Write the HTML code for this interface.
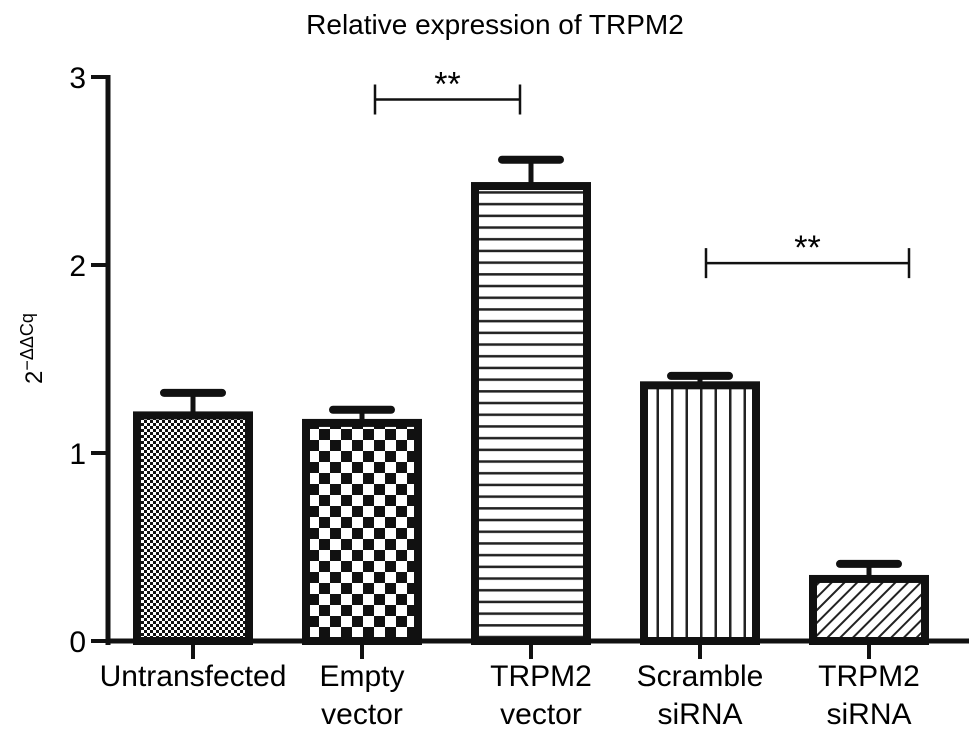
<!DOCTYPE html>
<html><head><meta charset="utf-8"><style>
body{margin:0;background:#fff}
svg{display:block;font-family:"Liberation Sans",sans-serif}
</style></head><body>
<svg id="c" width="969" height="748">
<defs>
<pattern id="p0" width="6" height="6" patternUnits="userSpaceOnUse"><rect width="6" height="6" fill="#fff"/><rect width="3" height="3" fill="#111"/><rect x="3" y="3" width="3" height="3" fill="#111"/></pattern>
<pattern id="p1" width="22" height="22" patternUnits="userSpaceOnUse"><rect width="22" height="22" fill="#fff"/><rect width="11" height="11" fill="#111"/><rect x="11" y="11" width="11" height="11" fill="#111"/></pattern>
<pattern id="p2" width="10" height="11.7" patternUnits="userSpaceOnUse"><rect width="10" height="11.7" fill="#fff"/><rect y="4" width="10" height="2.5" fill="#222"/></pattern>
<pattern id="p3" width="14.5" height="10" patternUnits="userSpaceOnUse"><rect width="14.5" height="10" fill="#fff"/><rect x="4" width="2.5" height="10" fill="#222"/></pattern>
<pattern id="p4" width="9" height="9" patternUnits="userSpaceOnUse" patternTransform="rotate(45)"><rect width="9" height="9" fill="#fff"/><rect width="2" height="9" fill="#222"/></pattern>
</defs>
<text x="495" y="34" font-size="28" text-anchor="middle">Relative expression of TRPM2</text>
<g id="g"></g>
</svg>
<script>
const categories=[["Untransfected"],["Empty","vector"],["TRPM2","vector"],["Scramble","siRNA"],["TRPM2","siRNA"]];
const values=[1.20,1.16,2.42,1.36,0.33];
const errors=[0.12,0.07,0.14,0.05,0.08];
const yTicks=[0,1,2,3];
const sigPairs=[[1,2,2.88],[3,4,2.01]];
const patterns=["p0","p1","p2","p3","p4"];
const NS="http://www.w3.org/2000/svg",g=document.getElementById("g");
const y0=641,ppu=188,xa=108,x0=193,step=169,bw=112;
const Y=v=>y0-v*ppu, X=i=>x0+i*step;
function el(t,a,txt){const e=document.createElementNS(NS,t);for(const k in a)e.setAttribute(k,a[k]);if(txt!==undefined)e.textContent=txt;g.appendChild(e);return e;}
let e=el("line",{x1:xa,y1:Y(3)-2,x2:xa,y2:y0+4,stroke:"#111","stroke-width":5});


e=el("line",{x1:xa-2,y1:y0,x2:969,y2:y0,stroke:"#111","stroke-width":5});


yTicks.forEach(t=>{
 let l=el("line",{x1:xa-17,y1:Y(t),x2:xa,y2:Y(t),stroke:"#111","stroke-width":4});
 
 
 let tx=el("text",{x:xa-22,y:Y(t)+11,"font-size":30,"text-anchor":"end"},String(t));
 
 
});
e=el("text",{x:0,y:0,"font-size":24,transform:"translate(42,384) rotate(-90)","text-anchor":"start"});
e.innerHTML='2<tspan dy="-9" font-size="18">−ΔΔCq</tspan>';


values.forEach((v,i)=>{
 const cx=X(i);
 let el1=el("line",{x1:cx,y1:Y(v),x2:cx,y2:Y(v+errors[i]),stroke:"#111","stroke-width":5});
 
 
 let cap=el("line",{x1:cx-29,y1:Y(v+errors[i]),x2:cx+29,y2:Y(v+errors[i]),stroke:"#111","stroke-width":8,"stroke-linecap":"round"});
 
 
 let r=el("rect",{x:cx-bw/2,y:Y(v),width:bw,height:y0-Y(v),fill:"url(#"+patterns[i]+")",stroke:"#111","stroke-width":8});
 
 
 let tk=el("line",{x1:cx,y1:y0,x2:cx,y2:y0+18,stroke:"#111","stroke-width":4});
 
 
 categories[i].forEach((s,j)=>{
  let t=el("text",{x:cx+(i==2?10:0),y:686+j*38,"font-size":30,"text-anchor":"middle"},s);
  
  
 });
});
sigPairs.forEach((p,k)=>{
 const xa1=X(p[0])+(k==0?13:6),xb=X(p[1])+(k==0?-11:40),yy=Y(p[2]);
 let l=el("path",{d:`M${xa1} ${yy-15}V${yy+15}M${xa1} ${yy}H${xb}M${xb} ${yy-15}V${yy+15}`,stroke:"#111","stroke-width":2.5,fill:"none"});
 
 
 let s=el("text",{x:(xa1+xb)/2,y:yy-4,"font-size":34,"text-anchor":"middle"},"**");
 
 
});
</script>
</body></html>
